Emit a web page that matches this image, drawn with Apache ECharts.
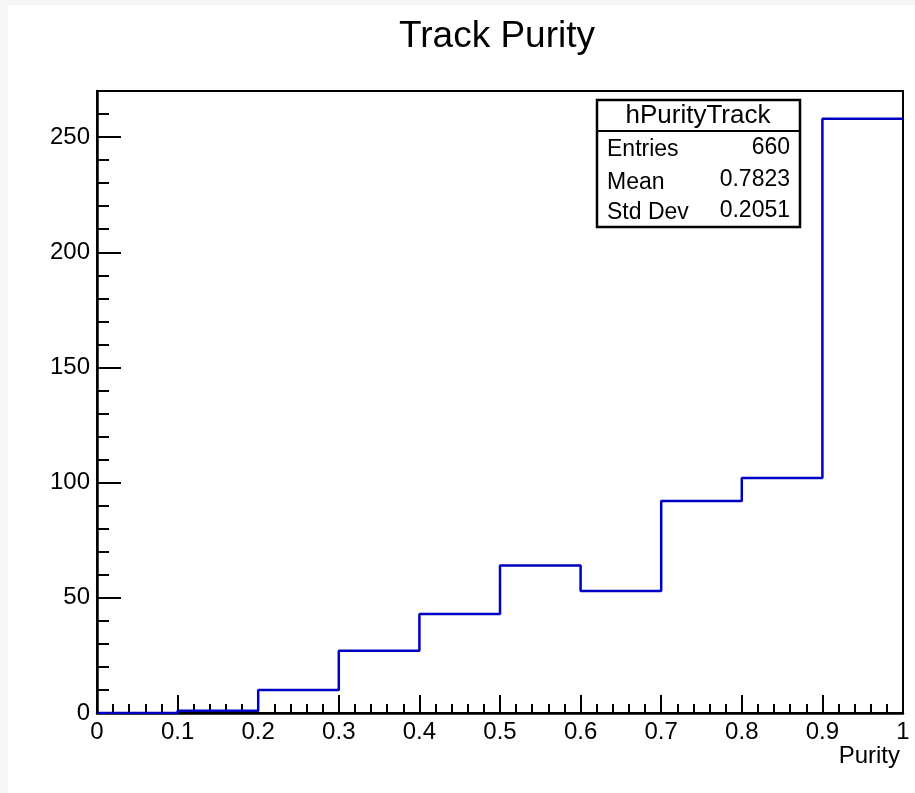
<!DOCTYPE html>
<html>
<head>
<meta charset="utf-8">
<script src="https://cdn.jsdelivr.net/npm/echarts@6/dist/echarts.min.js"></script>
<style>
html,body{margin:0;padding:0;background:#fff;}
#chart{width:915px;height:793px;}
</style>
</head>
<body>
<div id="chart"></div>
<script>
// Histogram bin edges and counts
var binEdges = [0.0, 0.1, 0.2, 0.3, 0.4, 0.5, 0.6, 0.7, 0.8, 0.9, 1.0];
var counts = [0, 1, 10, 27, 43, 64, 53, 92, 102, 258];
var xTickLabels = ['0', '0.1', '0.2', '0.3', '0.4', '0.5', '0.6', '0.7', '0.8', '0.9', '1'];
var statsName = 'hPurityTrack';
var statsLabels = ['Entries', 'Mean', 'Std Dev'];
var statsValues = ['660', '0.7823', '0.2051'];
var chartTitle = 'Track Purity';
var xTitle = 'Purity';

var FONT = '"Liberation Sans", Arial, Helvetica, sans-serif';

// step data: each bin edge with the bin's count; final edge repeats last count
var stepData = [];
for (var i = 0; i < counts.length; i++) stepData.push([binEdges[i], counts[i]]);
stepData.push([binEdges[binEdges.length - 1], counts[counts.length - 1]]);

var chart = echarts.init(document.getElementById('chart'), null, {renderer: 'canvas'});

var grid = {left: 97, right: 12, top: 91, bottom: 80, show: true, borderColor: '#000', borderWidth: 2, backgroundColor: '#fff', containLabel: false};

var option = {
  animation: false,
  backgroundColor: '#fff',
  grid: grid,
  xAxis: [
    {
      type: 'value', min: 0, max: 1, interval: 0.1,
      axisLine: {show: true, onZero: false, lineStyle: {color: '#000', width: 2.5}},
      axisTick: {show: true, inside: true, length: 18, lineStyle: {color: '#000', width: 2}},
      splitLine: {show: false},
      axisLabel: {
        show: true, margin: 7, color: '#000', fontFamily: FONT, fontSize: 24,
        formatter: function (v) {
          var idx = Math.round(v * 10);
          return xTickLabels[idx] !== undefined ? xTickLabels[idx] : '';
        }
      }
    },
    {
      type: 'value', min: 0, max: 1, interval: 0.02, position: 'bottom',
      axisLine: {show: false},
      axisTick: {show: true, inside: true, length: 9, lineStyle: {color: '#000', width: 2}},
      axisLabel: {show: false},
      splitLine: {show: false}
    }
  ],
  yAxis: [
    {
      type: 'value', min: 0, max: 270, interval: 50,
      axisLine: {show: true, onZero: false, lineStyle: {color: '#000', width: 2.5}},
      axisTick: {show: true, inside: true, length: 24, lineStyle: {color: '#000', width: 2}},
      splitLine: {show: false},
      axisLabel: {show: true, showMaxLabel: false, margin: 7, color: '#000', fontFamily: FONT, fontSize: 24}
    },
    {
      type: 'value', min: 0, max: 270, interval: 10, position: 'left',
      axisLine: {show: false},
      axisTick: {show: true, inside: true, length: 12, lineStyle: {color: '#000', width: 2}},
      axisLabel: {show: false},
      splitLine: {show: false}
    }
  ],
  series: [
    {
      type: 'line', xAxisIndex: 0, yAxisIndex: 0,
      step: 'end', data: stepData, symbol: 'none',
      lineStyle: {color: '#0000c4', width: 2.5},
      z: 3
    }
  ],
  graphic: [
    {type: 'rect', shape: {x: 0, y: 0, width: 8, height: 793}, style: {fill: '#f6f6f6'}, silent: true, z: 0},
    {type: 'rect', shape: {x: 0, y: 0, width: 915, height: 5}, style: {fill: '#f6f6f6'}, silent: true, z: 0},
    {type: 'text', x: 497, y: 37, style: {text: chartTitle, fill: '#000', font: '37px ' + FONT, textAlign: 'center', textVerticalAlign: 'middle'}, z: 10},
    {type: 'text', x: 900, y: 756, style: {text: xTitle, fill: '#000', font: '24px ' + FONT, textAlign: 'right', textVerticalAlign: 'middle'}, z: 10},
    {
      type: 'group', z: 20,
      children: [
        {type: 'rect', shape: {x: 597, y: 100, width: 203, height: 127}, style: {fill: '#fff', stroke: '#000', lineWidth: 2.5}},
        {type: 'line', shape: {x1: 597, y1: 131, x2: 800, y2: 131}, style: {stroke: '#000', lineWidth: 2}},
        {type: 'text', x: 698, y: 116, style: {text: statsName, fill: '#000', font: '26px ' + FONT, textAlign: 'center', textVerticalAlign: 'middle'}},
        {type: 'text', x: 607, y: 150, style: {text: statsLabels[0], fill: '#000', font: '23px ' + FONT, textAlign: 'left', textVerticalAlign: 'middle'}},
        {type: 'text', x: 607, y: 183, style: {text: statsLabels[1], fill: '#000', font: '23px ' + FONT, textAlign: 'left', textVerticalAlign: 'middle'}},
        {type: 'text', x: 607, y: 213, style: {text: statsLabels[2], fill: '#000', font: '23px ' + FONT, textAlign: 'left', textVerticalAlign: 'middle'}},
        {type: 'text', x: 790, y: 148, style: {text: statsValues[0], fill: '#000', font: '23px ' + FONT, textAlign: 'right', textVerticalAlign: 'middle'}},
        {type: 'text', x: 790, y: 180, style: {text: statsValues[1], fill: '#000', font: '23px ' + FONT, textAlign: 'right', textVerticalAlign: 'middle'}},
        {type: 'text', x: 790, y: 211, style: {text: statsValues[2], fill: '#000', font: '23px ' + FONT, textAlign: 'right', textVerticalAlign: 'middle'}}
      ]
    }
  ]
};
chart.setOption(option);
</script>
</body>
</html>
